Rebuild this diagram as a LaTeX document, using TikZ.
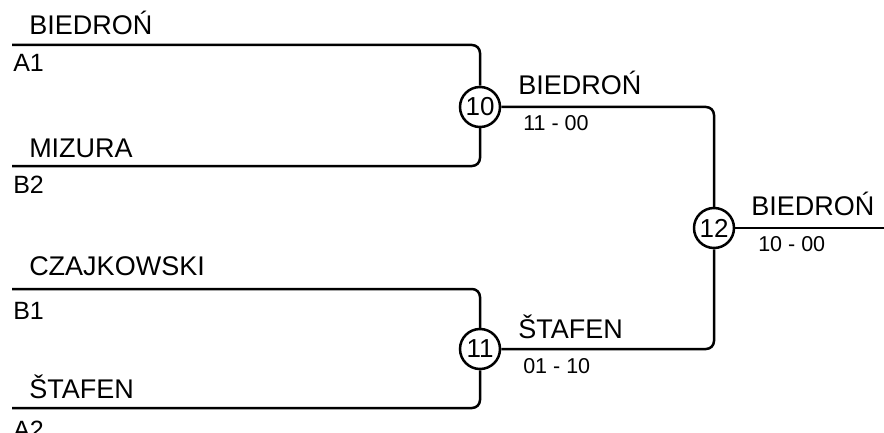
\documentclass[tikz,border=0pt]{standalone}
\usepackage{fontspec}
\setmainfont{Liberation Sans}
\usetikzlibrary{positioning}

\begin{document}
\begin{tikzpicture}[x=1pt,y=1pt,line width=2.5pt,
    team/.style={anchor=base west,inner sep=0pt,font=\fontsize{27}{27}\selectfont},
    seed/.style={anchor=north west,inner sep=0pt,font=\fontsize{25}{25}\selectfont},
    score/.style={anchor=north west,inner sep=0pt,font=\fontsize{21.5}{21.5}\selectfont},
    game/.style={draw,circle,fill=white,minimum size=40pt,inner sep=0pt,font=\fontsize{26}{26}\selectfont}]
    \useasboundingbox (0,0) rectangle (884,432);
    % first round
    \coordinate (l1) at (12,387);
    \coordinate (l2) at (12,266);
    \coordinate (l3) at (12,143);
    \coordinate (l4) at (12,24);
    \node[team] (t1) at (28,397) {BIEDROŃ};
    \node[seed] (s1) at (12,379) {A1};
    \node[team] (t2) at (28,275) {MIZURA};
    \node[seed] (s2) at (12,257) {B2};
    \node[team] (t3) at (28,157) {CZAJKOWSKI};
    \node[seed] (s3) at (12,131) {B1};
    \node[team] (t4) at (28,34) {ŠTAFEN};
    \node[seed] (s4) at (12,12) {A2};
    % games
    \node[game] (g10) at (480,325) {10};
    \node[game] (g11) at (480,83) {11};
    \node[game] (g12) at (714,204) {12};
    \coordinate (out) at (884,204);
    \draw[rounded corners=8pt] (l1) -| (g10.north);
    \draw[rounded corners=8pt] (l2) -| (g10.south);
    \draw[rounded corners=8pt] (l3) -| (g11.north);
    \draw[rounded corners=8pt] (l4) -| (g11.south);
    \draw[rounded corners=8pt] (g10.east) -| (g12.north);
    \draw[rounded corners=8pt] (g11.east) -| (g12.south);
    \draw (g12.east) -- (out);
    % winners
    \node[team] (w10) at (517,337) {BIEDROŃ};
    \node[score] (r10) at (522,318) {11 - 00};
    \node[team] (w11) at (517,94) {ŠTAFEN};
    \node[score] (r11) at (522,75) {01 - 10};
    \node[team] (w12) at (750,217) {BIEDROŃ};
    \node[score] (r12) at (757,197) {10 - 00};
\end{tikzpicture}
\end{document}
